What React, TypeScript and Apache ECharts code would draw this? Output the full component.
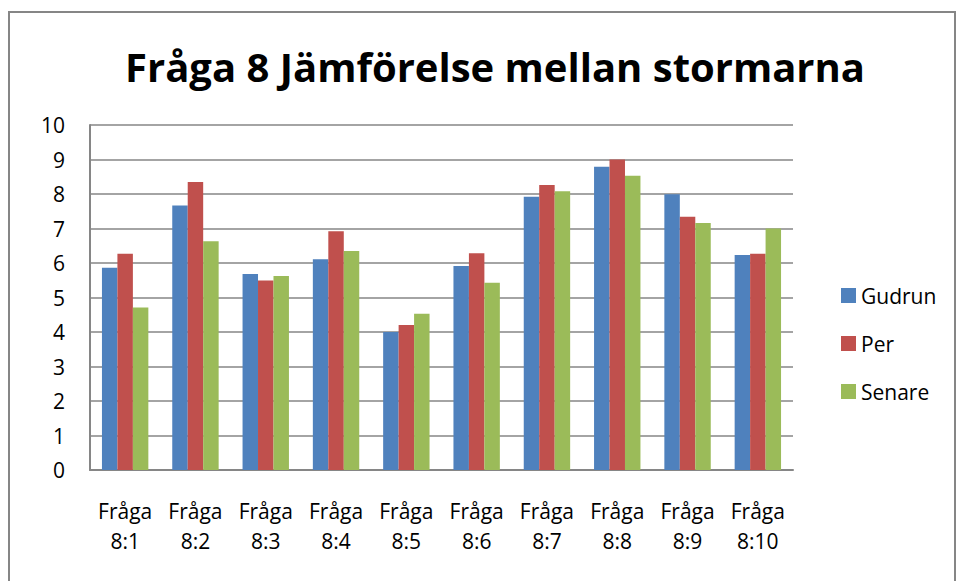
import React, { useEffect, useRef } from "react";
import * as echarts from "echarts";

const categories = ["Fråga\n8:1", "Fråga\n8:2", "Fråga\n8:3", "Fråga\n8:4", "Fråga\n8:5", "Fråga\n8:6", "Fråga\n8:7", "Fråga\n8:8", "Fråga\n8:9", "Fråga\n8:10"];
const gudrun = [5.86, 7.67, 5.68, 6.11, 4.0, 5.91, 7.92, 8.79, 7.99, 6.23];
const per = [6.27, 8.35, 5.49, 6.92, 4.2, 6.28, 8.26, 9.0, 7.34, 6.27];
const senare = [4.71, 6.63, 5.62, 6.35, 4.53, 5.43, 8.08, 8.53, 7.16, 7.0];
const seriesNames = ["Gudrun", "Per", "Senare"];
const colors = ["#4F81BD", "#C0504D", "#9BBB59"];

const FONT = "'Open Sans', 'Noto Sans', sans-serif";

export default function App() {
  const ref = useRef<HTMLDivElement>(null);
  useEffect(() => {
    if (!ref.current) return;
    const chart = echarts.init(ref.current, undefined, { renderer: "svg" });
    const data = [gudrun, per, senare];
    chart.setOption({
      animation: false,
      backgroundColor: "#ffffff",
      title: {
        text: "Fråga 8 Jämförelse mellan stormarna",
        left: 490,
        textAlign: "center",
        top: 41,
        textStyle: { fontFamily: FONT, fontWeight: "bold", fontSize: 40, color: "#000" },
      },
      graphic: [
        {
          type: "rect",
          shape: { x: 9, y: 12, width: 946, height: 600 },
          style: { fill: "none", stroke: "#868686", lineWidth: 2 },
          silent: true,
        },
      ],
      legend: {
        orient: "vertical",
        left: 836,
        top: 280,
        itemWidth: 15,
        itemHeight: 15,
        itemGap: 27,
        icon: "rect",
        textStyle: { fontFamily: FONT, fontSize: 21, color: "#000" },
        data: seriesNames,
      },
      grid: { left: 90, right: 169, top: 125, bottom: 111, containLabel: false },
      xAxis: {
        type: "category",
        data: categories,
        axisLine: { lineStyle: { color: "#868686", width: 2 } },
        axisTick: { show: false },
        axisLabel: {
          fontFamily: FONT,
          fontSize: 21,
          color: "#000",
          lineHeight: 30,
          margin: 26,
          interval: 0,
        },
      },
      yAxis: {
        type: "value",
        min: 0,
        max: 10,
        interval: 1,
        axisLine: { show: true, lineStyle: { color: "#868686", width: 2 } },
        axisTick: { show: false },
        splitLine: { lineStyle: { color: "#868686", width: 1.5 } },
        axisLabel: { fontFamily: FONT, fontSize: 21, color: "#000", margin: 25 },
      },
      series: seriesNames.map((name, i) => ({
        name,
        type: "bar",
        data: data[i],
        barGap: "0%",
        barCategoryGap: "34%",
        itemStyle: { color: colors[i] },
      })),
    });
    return () => chart.dispose();
  }, []);
  return (
    <div
      ref={ref}
      style={{ position: "fixed", left: 0, top: 0, width: 962, height: 581 }}
    />
  );
}
